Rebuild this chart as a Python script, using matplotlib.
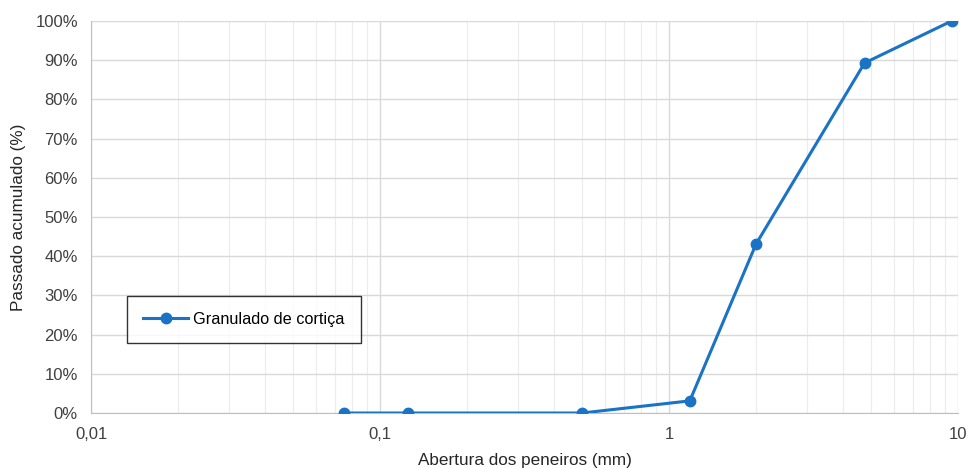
import matplotlib
matplotlib.use("Agg")
import matplotlib.pyplot as plt
from matplotlib.ticker import FixedLocator, LogLocator, FuncFormatter, MultipleLocator

plt.rcParams['font.family'] = ['Liberation Sans', 'DejaVu Sans']

# sieve openings (mm) and cumulative passing (%)
abertura = [0.075, 0.125, 0.5, 1.18, 2.0, 4.75, 9.5]
passado = [0.0, 0.0, 0.0, 3.1, 43.1, 89.3, 100.0]
serie = "Granulado de cortiça"
xticks = [0.01, 0.1, 1, 10]
xtick_labels = ["0,01", "0,1", "1", "10"]

azul = "#1a73c4"

fig = plt.figure(figsize=(9.7, 4.68), dpi=100)
ax = fig.add_axes([0.094, 0.1175, 0.8936, 0.8375])

ax.plot(abertura, passado, '-o', color=azul, lw=2.2, ms=7.5, label=serie, zorder=3)

ax.set_xscale('log')
ax.set_xlim(0.01, 10)
ax.set_ylim(0, 100)
ax.xaxis.set_major_locator(FixedLocator(xticks))
ax.xaxis.set_major_formatter(FuncFormatter(lambda v, p: xtick_labels[xticks.index(v)] if v in xticks else ""))
ax.xaxis.set_minor_locator(LogLocator(base=10, subs=range(2, 10)))
ax.xaxis.set_minor_formatter(FuncFormatter(lambda v, p: ""))
ax.yaxis.set_major_locator(MultipleLocator(10))
ax.yaxis.set_major_formatter(FuncFormatter(lambda v, p: f"{v:.0f}%"))

ax.grid(which='major', color='#d9d9d9', lw=1)
ax.grid(which='minor', axis='x', color='#ececec', lw=0.8)
ax.set_axisbelow(True)
ax.tick_params(axis='y', which='both', length=0, labelsize=12, colors='#404040', pad=9.5)
ax.tick_params(axis='x', which='both', length=0, labelsize=12, colors='#404040', pad=10)

for s in ['top', 'right']:
    ax.spines[s].set_visible(False)
for s in ['left', 'bottom']:
    ax.spines[s].set_color('#bfbfbf')

ax.set_xlabel("Abertura dos peneiros (mm)", fontsize=12.3, color='#262626', labelpad=8)
ax.set_ylabel("Passado acumulado (%)", fontsize=12.3, color='#262626', labelpad=7)

leg = ax.legend(loc='lower left', bbox_to_anchor=(0.041, 0.178), fontsize=11.7,
                frameon=True, fancybox=False, borderpad=1.0, handlelength=2.8,
                handletextpad=0.3, borderaxespad=0)
leg.get_frame().set_edgecolor('black')
leg.get_frame().set_linewidth(1)

fig.savefig("out.png", dpi=100)
